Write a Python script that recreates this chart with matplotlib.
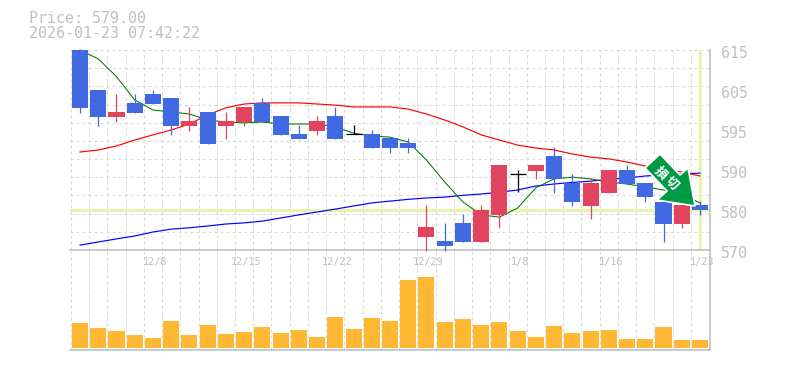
import numpy as np
import matplotlib
matplotlib.use("Agg")
import matplotlib.pyplot as plt
from matplotlib.patches import Polygon

W, H = 785, 370
header_price = "Price: 579.00"
header_time = "2026-01-23 07:42:22"
last_price = 579.0

opens = [615,606,599.9,603.1,605.1,604.2,597.9,601.05,597.9,598.8,603.1,600.15,596.1,596.8,600.15,596,596.1,595.2,594.1,572.9,572,576.1,571.8,577.9,587,587.8,591.1,585,579.9,582.8,588,585,580.8,575.85,580.1]
closes = [601.95,599.9,601.05,600.8,602.85,597.9,599,593.85,599,602.2,598.8,595.9,595,599,595,596,592.95,592.95,592.95,575.2,570.9,571.8,579,589.1,587,589.1,586,580.8,585,588,584.85,581.9,575.85,580.1,578.9]
highs = [615,606,605.1,605.1,606,604.2,602.2,601.05,601.05,602.2,604.2,600.15,598.1,600.15,602.2,598.1,597,595.2,595.2,580.1,576.1,578.1,580.1,589.1,588,589.1,593.2,587.1,586.2,588,589.1,585,580.8,580.1,581]
lows = [600.9,597.9,598.8,600.8,602.85,595.9,596.8,593.85,595,597.9,598.8,595.9,595,595.9,595,596,592.95,591.8,591.8,569.8,569.8,571.8,571.8,575,583,586,582.8,579.9,577,582.8,584.85,580.8,571.8,575,577.9]
volumes = [25,20,17,13,10,27,13,23,14,16,21,15,18,11,31,19,30,27,68,71,26,29,23,26,17,11,22,15,17,18,9,9,21,8,8]
ma_short = [615,613,609,603.75,601.5,601.05,600.6,599.25,598.8,598.6,598.8,598.35,598.35,598.35,597.7,596.3,595.65,595.4,594.3,590.25,585.3,580.8,577.9,577.4,579.45,584,586,586.4,586,585.3,584.85,584.2,583.5,582.6,580.6]
ma_mid = [592.05,592.5,593.4,594.75,595.9,597,598.35,600.4,602,602.85,603.1,603.1,603.1,602.85,602.6,602.2,602.2,602.2,601.7,600.6,599.25,597.7,595.9,594.75,593.6,592.95,592.5,591.6,590.9,590.5,589.8,588.9,588.2,587.55,586.65]
ma_long = [571.1,571.8,572.5,573.15,574.05,574.7,575,575.4,575.85,576.1,576.5,577.2,577.9,578.55,579.2,579.9,580.6,581,581.4,581.7,581.9,582.3,582.6,583,583.5,584.4,584.85,585.2,585.5,585.9,586.2,586.65,586.9,587.1,587.3]
date_idx = [4,9,14,19,24,29,34]
date_labels = ["12/8","12/15","12/22","12/29","1/8","1/16","1/23"]
price_labels = ["570","580","590","595","605","615"]
sign_text = ["損","切"]

GRAY = "#c0c0c0"
GRID = "#d8d8d8"
BLUE = "#4169e1"
RED = "#e2435f"
HILITE = "#e6f5ab"
MONO = "DejaVu Sans Mono"
DASH = (0, (3, 3))

def frame(px0, py0, px1, py1):
    return [px0 / W, 1 - py1 / H, (px1 - px0) / W, (py1 - py0) / H]

fig = plt.figure(figsize=(W / 100, H / 100), dpi=100, facecolor="white")
vax = fig.add_axes(frame(70, 250, 710, 350))
ax = fig.add_axes(frame(70, 50, 710, 250), sharex=vax)
n = len(opens)
xs = np.arange(n)
xlim = (-0.55, n - 1 + 0.55)

for a in (ax, vax):
    a.set_xlim(*xlim)
    a.set_xticks(xs[:-1] + 0.5)
    a.tick_params(length=0, labelbottom=False, labelleft=False)
    a.set_axisbelow(True)
    a.patch.set_alpha(0)
    for name, s in a.spines.items():
        s.set_visible(name in ("right", "bottom"))
        s.set_color(GRAY)
        s.set_linewidth(1.2)
    a.axvline(xlim[0] + 0.05, color=GRID, lw=0.72, ls=DASH, zorder=0)
    a.grid(axis="x", color=GRID, lw=0.72, ls=DASH)

ax.set_ylim(570, 615)
ax.set_yticks(np.linspace(570, 615, 12))
ax.grid(axis="y", color=GRID, lw=0.72, ls=DASH)
vax.set_ylim(-2, 98)
vax.set_yticks([])

ax.axhline(last_price, color=HILITE, lw=2.2, zorder=1)
ax.axvline(n - 1, color=HILITE, lw=2.2, zorder=1)

ax.plot(xs, ma_long, color="#0000ff", lw=0.85, zorder=2, clip_on=False)
ax.plot(xs, ma_mid, color="#ff0000", lw=0.85, zorder=2, clip_on=False)
ax.plot(xs, ma_short, color="#007800", lw=0.75, zorder=2, clip_on=False)

for i in xs:
    o, c, hi, lo = opens[i], closes[i], highs[i], lows[i]
    col = "black" if o == c else (RED if c > o else BLUE)
    ax.vlines(i, lo, hi, color=col, lw=0.9, zorder=3, clip_on=False)
    if o == c:
        ax.hlines(o, i - 0.44, i + 0.44, color=col, lw=0.9, zorder=3)
    else:
        ax.bar(i, abs(c - o), bottom=min(o, c), width=0.88, color=col, lw=0, zorder=3)

vax.bar(xs, volumes, width=0.88, color="#ffb834", lw=0, zorder=3)

for i, lab in zip(date_idx, date_labels):
    vax.annotate(lab, (i, 98), xytext=(2, -12), textcoords="offset pixels", ha="center", va="center",
                 family=MONO, fontsize=7.4, color=GRAY, annotation_clip=False, zorder=4)

for frac, lab in zip(np.linspace(0, 1, 6), price_labels):
    ax.text(xlim[1] + 0.58, 570 + 45 * frac - 0.85, lab, ha="left", va="center",
            family=MONO, fontsize=10.8, color=GRAY, clip_on=False)

fig.text(29 / W, 1 - 18.5 / H, header_price, family=MONO, fontsize=10.8, color=GRAY, va="center", ha="left")
fig.text(29 / W, 1 - 33 / H, header_time, family=MONO, fontsize=10.8, color=GRAY, va="center", ha="left")

sign_px = [(660, 154), (645, 168), (667, 191), (657, 200), (695, 206), (688, 168), (680, 175)]
sign = Polygon([(x / W, 1 - y / H) for x, y in sign_px], closed=True, transform=fig.transFigure,
               facecolor="#009944", edgecolor="white", lw=1.2, zorder=6)
fig.add_artist(sign)
for (px, py), ch in zip([(660, 173), (672, 183)], sign_text):
    fig.text(px / W, 1 - py / H, ch, family=["Noto Sans CJK JP", "DejaVu Sans"], fontsize=9.2, fontweight="bold",
             color="white", rotation=-45, ha="center", va="center", rotation_mode="anchor", zorder=7)

fig.savefig("out.png", dpi=100)
